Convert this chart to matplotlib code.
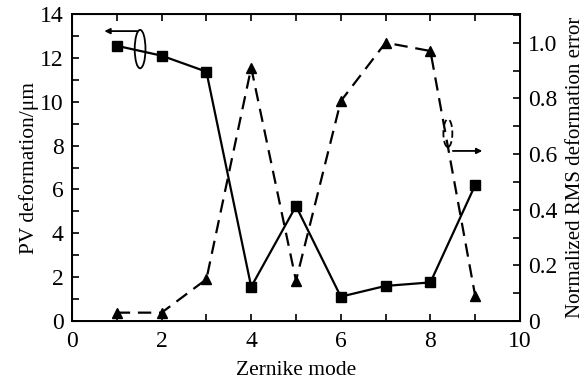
import matplotlib.pyplot as plt
import numpy as np
from matplotlib.patches import Ellipse
from matplotlib.ticker import MultipleLocator

plt.rcParams['font.family'] = ['Liberation Serif', 'DejaVu Serif']

# data
modes = [1, 2, 3, 4, 5, 6, 7, 8, 9]
pv = [12.55, 12.1, 11.37, 1.56, 5.24, 1.11, 1.6, 1.76, 6.2]
rms = [0.03, 0.03, 0.15, 0.91, 0.145, 0.79, 1.0, 0.97, 0.09]

fig = plt.figure(figsize=(5.84, 3.82), dpi=100)
ax = fig.add_axes([72/584, 1 - 321/382, 448/584, 307/382])

ax.plot(modes, pv, color='black', lw=1.6, marker='s', ms=6.5)
ax.set_xlim(0, 10)
ax.set_ylim(0, 14)
ax.xaxis.set_major_locator(MultipleLocator(2))
ax.xaxis.set_minor_locator(MultipleLocator(1))
ax.yaxis.set_major_locator(MultipleLocator(2))
ax.yaxis.set_minor_locator(MultipleLocator(1))
ax.tick_params(which='both', direction='in', top=True, length=5, width=1.2, labelsize=17)
ax.tick_params(axis='x', pad=7)
ax.tick_params(axis='y', which='both', right=False, pad=6)
ax.set_xlabel('Zernike mode', fontsize=15.5, labelpad=7)
ax.set_ylabel('PV deformation/μm', fontsize=15.5, labelpad=1)
for s in ax.spines.values():
    s.set_linewidth(1.4)

ax2 = ax.twinx()
ax2.plot(modes, rms, color='black', lw=1.6, ls=(0, (6, 3.5)), marker='^', ms=6.5)
ax2.set_ylim(0, 1.103)
ax2.yaxis.set_minor_locator(MultipleLocator(0.1))
ax2.set_yticks([0, 0.2, 0.4, 0.6, 0.8, 1.0])
ax2.set_yticklabels(['0', '0.2', '0.4', '0.6', '0.8', '1.0'])
ax2.tick_params(which='both', direction='in', length=5, width=1.2, labelsize=17, pad=6)
ax2.set_ylabel('Normalized RMS deformation error', fontsize=15, labelpad=6)

# annotation: left arrow with ellipse
ax.add_patch(Ellipse((1.52, 12.4), 0.24, 1.75, fill=False, lw=1.3, color='black'))
ax.annotate('', xy=(0.66, 13.22), xytext=(1.52, 13.22),
            arrowprops=dict(arrowstyle='-|>', color='black', lw=1.3, mutation_scale=8))
# annotation: right arrow with dashed ellipse
ax2.add_patch(Ellipse((8.39, 0.675), 0.2, 0.1, fill=False, lw=1.3, ls=(0, (4, 2)), color='black'))
ax2.annotate('', xy=(9.22, 0.611), xytext=(8.44, 0.611),
             arrowprops=dict(arrowstyle='-|>', color='black', lw=1.3, mutation_scale=8))

plt.savefig('out.png', dpi=100)
